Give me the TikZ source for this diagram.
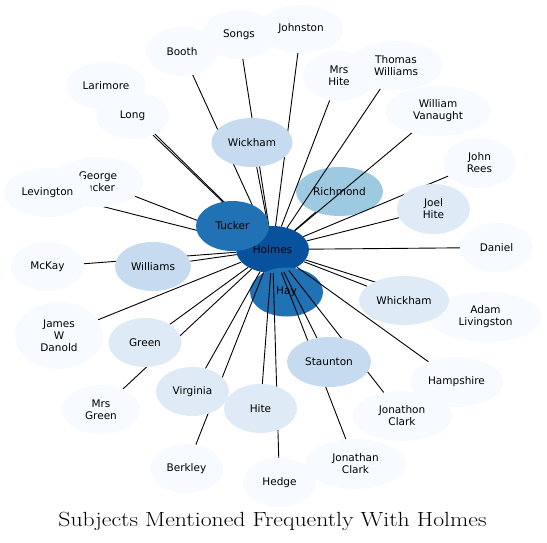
\documentclass[tikz,border=0pt]{standalone}
\usepackage{fontspec}
\usepackage{graphicx}
\newfontfamily\labelfont{DejaVu Sans}
\usetikzlibrary{shapes.geometric}
\definecolor{blue1}{HTML}{08519C}
\definecolor{blue2}{HTML}{2171B5}
\definecolor{blue3}{HTML}{9ECAE1}
\definecolor{blue4}{HTML}{C6DBEF}
\definecolor{blue5}{HTML}{DEEBF7}
\definecolor{blue6}{HTML}{F7FBFF}
\pgfdeclarelayer{under}
\pgfdeclarelayer{links}
\pgfsetlayers{under,links,main}

\begin{document}
\begin{tikzpicture}[
			x=1pt, y=-1pt,
			name node/.style={ellipse, draw=none, inner sep=0pt, minimum width=73pt, minimum height=49pt, align=center, text=black, font=\labelfont\fontsize{10.5}{12}\selectfont},
			tier 1/.style={name node, fill=blue1},
			tier 2/.style={name node, fill=blue2},
			tier 3/.style={name node, fill=blue3},
			tier 4/.style={name node, fill=blue4},
			tier 5/.style={name node, fill=blue5},
			tier 6/.style={name node, fill=blue6},
			link/.style={draw=black, line width=0.9pt}
			]
			\useasboundingbox (0,0) rectangle (547,542);
			
			\begin{pgfonlayer}{under}
				\node[tier 1, minimum height=47pt] (holmes) at (272.5,249.5) {Holmes};
				\node[tier 2] (hay) at (286.5,292) {Hay};
				\node[tier 3, minimum width=87pt] (richmond) at (339.5,191.5) {Richmond};
			\end{pgfonlayer}
			
			\node[tier 2, minimum height=50pt] (tucker) at (232.5,226) {Tucker};
			\node[tier 4, minimum width=81pt] (wickham) at (252,142.5) {Wickham};
			\node[tier 4, minimum width=76pt] (williams) at (153,266.5) {Williams};
			\node[tier 4, minimum width=84pt, minimum height=50pt] (staunton) at (329,362) {Staunton};
			\node[tier 5] (green) at (145,342.5) {Green};
			\node[tier 5] (virginia) at (192.5,391.5) {Virginia};
			\node[tier 5] (hite) at (260.5,408.5) {Hite};
			\node[tier 6, minimum width=72pt] (booth) at (182,51.5) {Booth};
			\node[tier 6] (songs) at (239,34.5) {Songs};
			\node[tier 6, minimum width=84pt, minimum height=48pt] (johnston) at (301,29) {Johnston};
			\node[tier 6, minimum width=72pt, minimum height=50pt] (mrshite) at (339,76) {Mrs\\Hite};
			\node[tier 6, minimum width=94pt] (thomaswilliams) at (396,65.5) {Thomas\\Williams};
			\node[tier 6, minimum width=106pt, minimum height=50pt] (vanaught) at (438,111) {William\\Vanaught};
			\node[tier 6, minimum height=50pt] (johnrees) at (479.5,163) {John\\Rees};
			\node[tier 5, minimum height=50pt] (joelhite) at (433.5,209) {Joel\\Hite};
			\node[tier 6] (daniel) at (496.5,247.5) {Daniel};
			\node[tier 6, minimum width=113pt, minimum height=50pt] (livingston) at (485.5,317) {Adam\\Livingston};
			\node[tier 5, minimum width=90pt] (whickham) at (404,300.5) {Whickham};
			\node[tier 6, minimum width=93pt, minimum height=50pt] (hampshire) at (456.5,382) {Hampshire};
			\node[tier 6, minimum width=100pt, minimum height=50pt] (jonathonclark) at (402,416) {Jonathon\\Clark};
			\node[tier 6, minimum width=101pt, minimum height=50pt] (jonathanclark) at (355.5,464) {Jonathan\\Clark};
			\node[tier 6] (hedge) at (279.5,482.5) {Hedge};
			\node[tier 6] (berkley) at (186.5,468.5) {Berkley};
			\node[tier 6, minimum width=78pt] (mrsgreen) at (101,409.5) {Mrs\\Green};
			\node[tier 6, minimum width=88pt, minimum height=67pt] (danold) at (59,335.5) {James\\W\\Danold};
			\node[tier 6] (mckay) at (47.5,266.5) {McKay};
			\node[tier 6, minimum width=90pt, minimum height=50pt] (georgetucker) at (98,182) {George\\Tucker};
			\node[tier 6, minimum width=88pt] (levington) at (47.5,192.5) {Levington};
			\node[tier 6, minimum width=80pt, minimum height=48pt] (larimore) at (106,86) {Larimore};
			\node[tier 6, minimum height=47pt] (long) at (132.5,115.5) {Long};
			
			\begin{pgfonlayer}{links}
				\foreach \who in {richmond,wickham,williams,staunton,green,virginia,hite,booth,songs,johnston,mrshite,thomaswilliams,vanaught,johnrees,joelhite,daniel,livingston,whickham,hampshire,jonathonclark,jonathanclark,hedge,berkley,mrsgreen,danold,mckay,georgetucker,levington,larimore,long}
					\draw[link] (holmes) -- (\who);
			\end{pgfonlayer}
			
			\node[font=\fontsize{20.5}{24}\selectfont] (title) at (272.5,521) {\scalebox{1.156}[1]{Subjects Mentioned Frequently With Holmes}};
		\end{tikzpicture}
\end{document}
